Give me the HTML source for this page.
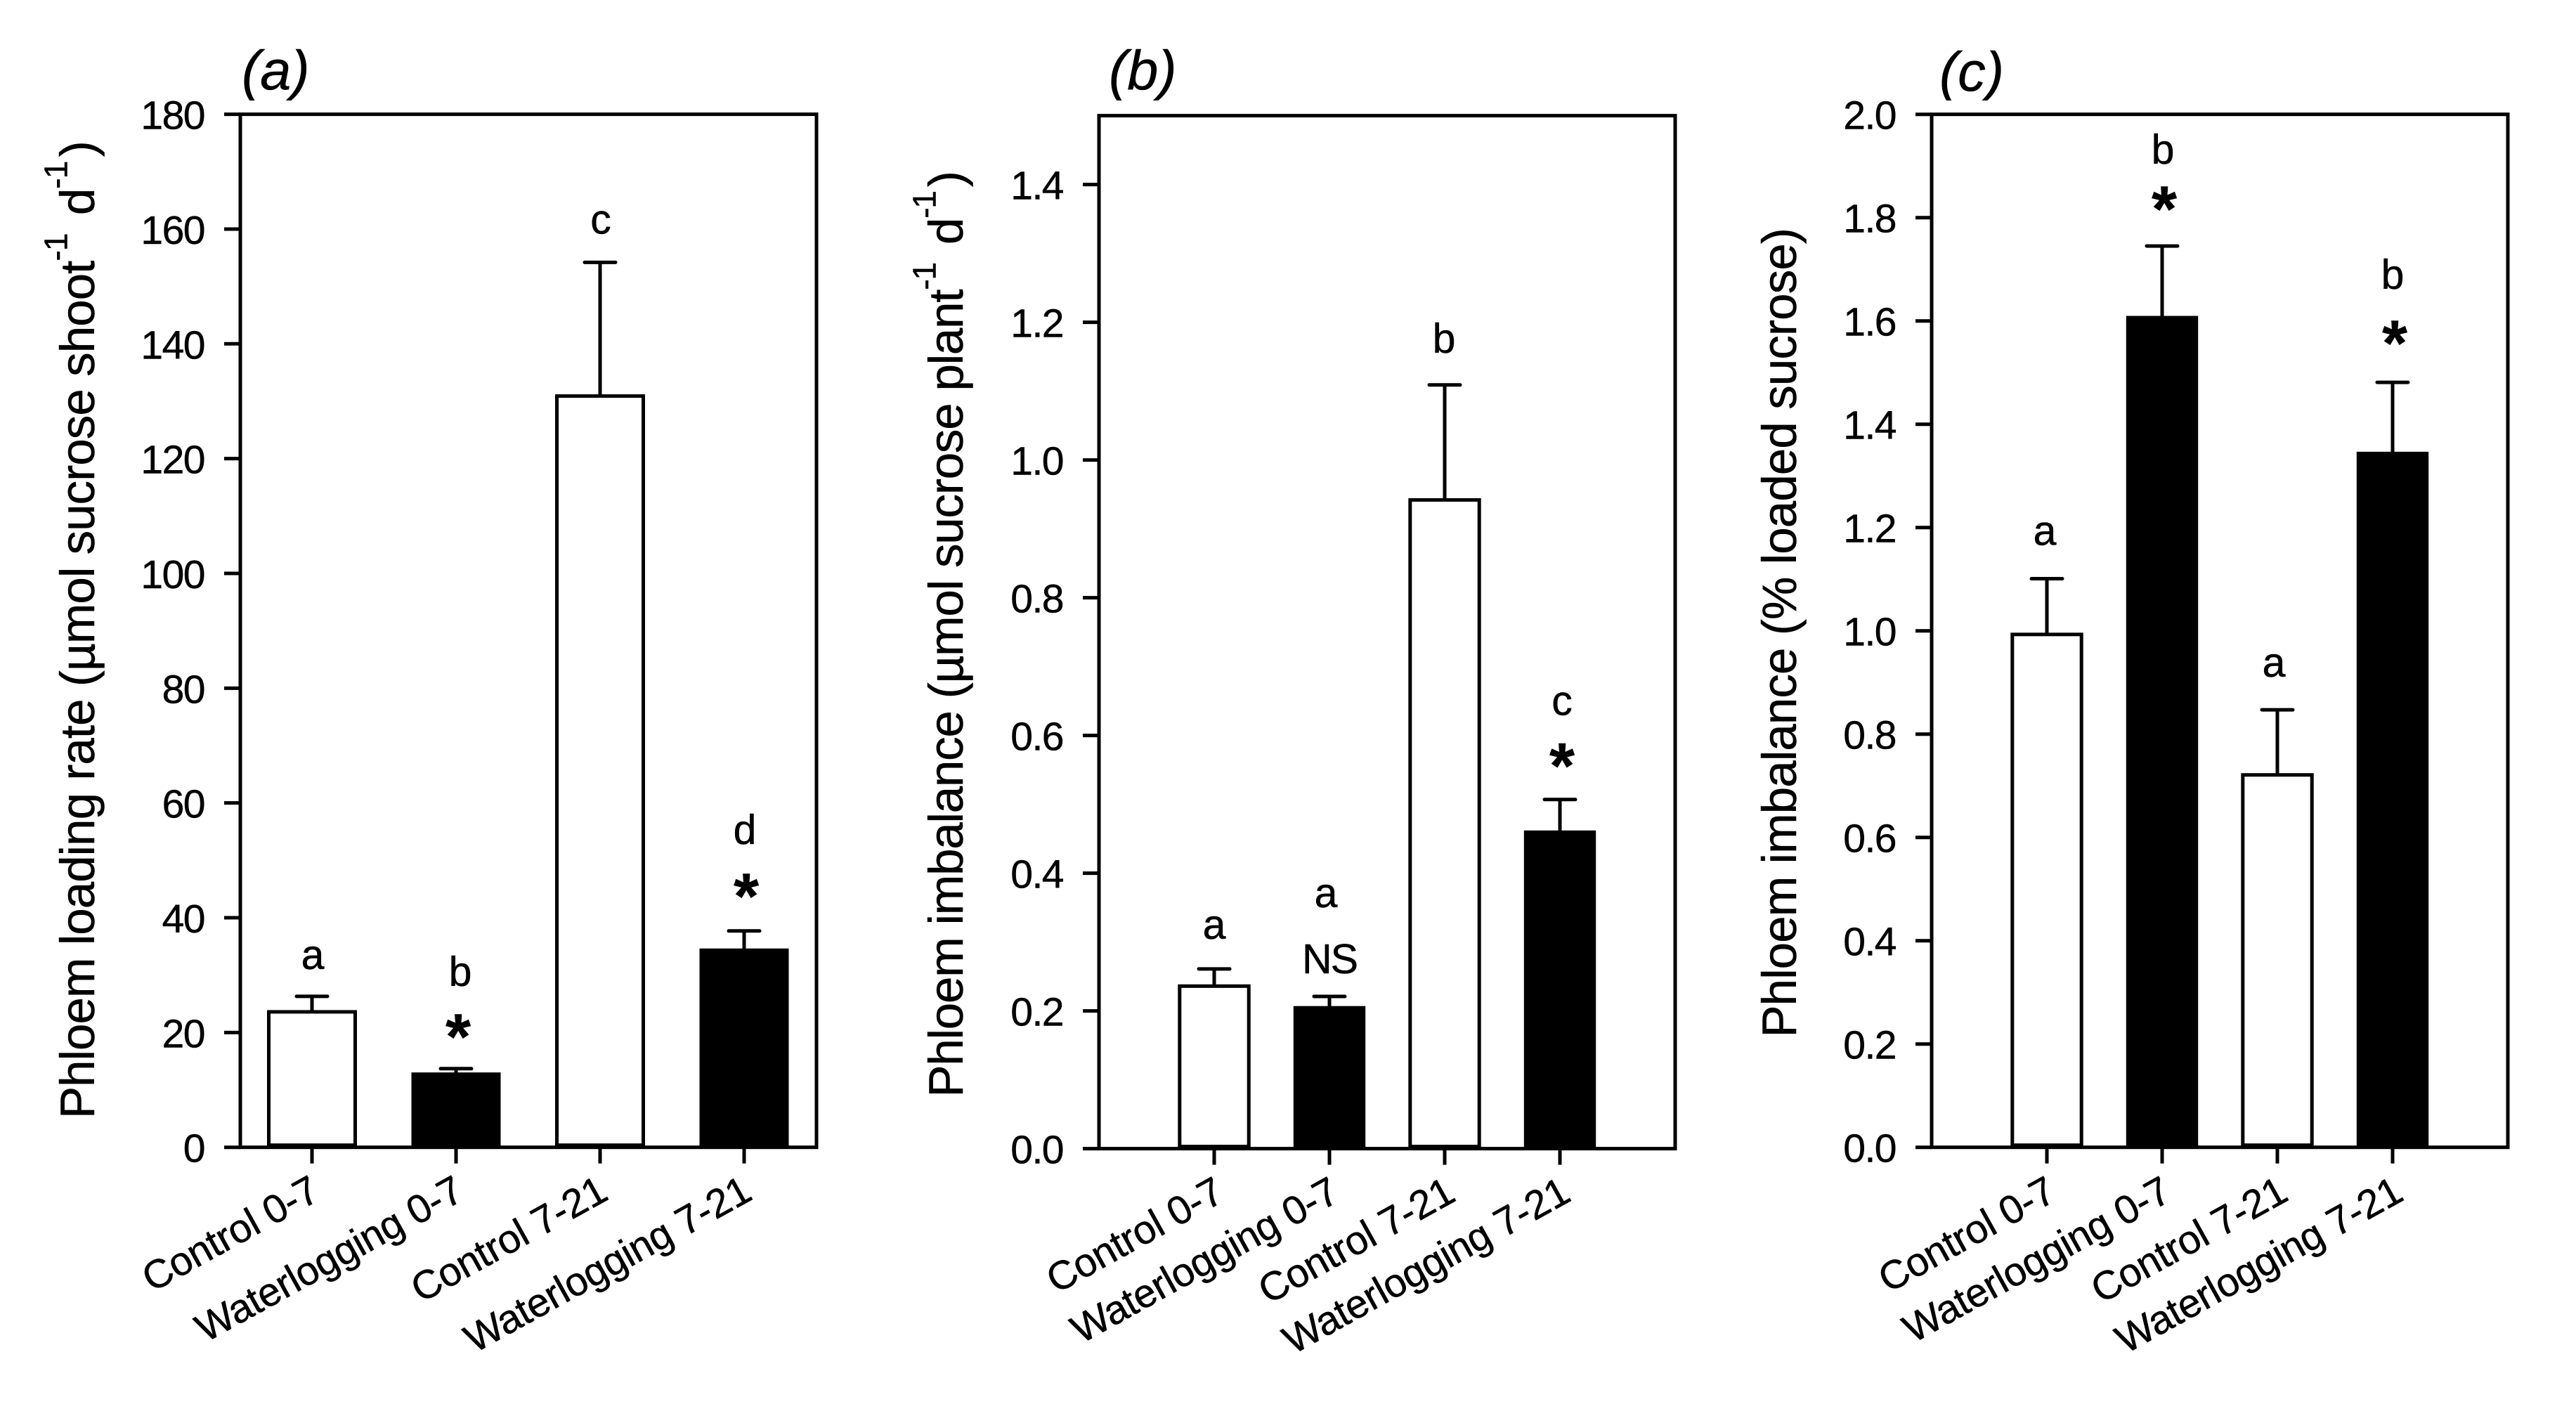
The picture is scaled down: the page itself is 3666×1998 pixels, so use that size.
<!DOCTYPE html>
<html lang="en">
<head>
<meta charset="utf-8">
<title>Phloem loading rate and imbalance</title>
<style>
html,body{margin:0;padding:0;background:#fff;}
svg{display:block;}
text{font-family:"Liberation Sans",Arial,sans-serif;fill:#000;stroke:#000;stroke-width:0.5px;}
</style>
</head>
<body>
<svg id="figure" xmlns="http://www.w3.org/2000/svg" width="3666" height="1998" viewBox="0 0 3666 1998">
<defs><clipPath id="title-clip"><rect x="0" y="69" width="3666" height="74"></rect></clipPath></defs>
<rect x="0" y="0" width="3666" height="1998" fill="#fff"></rect>
</svg>
<script>
const categories = ['Control 0-7', 'Waterlogging 0-7', 'Control 7-21', 'Waterlogging 7-21'];
const barFills = ['white', 'black', 'white', 'black'];

const panelAValues = [23.6, 12.8, 130.9, 34.4];
const panelAErrors = [2.7, 0.9, 23.3, 3.3];
const panelATicks = ['0', '20', '40', '60', '80', '100', '120', '140', '160', '180'];
const panelALetters = ['a', 'b', 'c', 'd'];
const panelAMarks = ['', '*', '', '*'];

const panelBValues = [0.236, 0.205, 0.942, 0.46];
const panelBErrors = [0.025, 0.016, 0.167, 0.047];
const panelBTicks = ['0.0', '0.2', '0.4', '0.6', '0.8', '1.0', '1.2', '1.4'];
const panelBLetters = ['a', 'a', 'b', 'c'];
const panelBMarks = ['', 'NS', '', '*'];

const panelCValues = [0.993, 1.607, 0.721, 1.344];
const panelCErrors = [0.108, 0.138, 0.126, 0.137];
const panelCTicks = ['0.0', '0.2', '0.4', '0.6', '0.8', '1.0', '1.2', '1.4', '1.6', '1.8', '2.0'];
const panelCLetters = ['a', 'b', 'a', 'b'];
const panelCMarks = ['', '*', '', '*'];

const SVG_NS = 'http://www.w3.org/2000/svg';
const figure = document.getElementById('figure');
const STROKE = 5;
const FONT_TICK = 57;
const FONT_LETTER = 59;
const FONT_AXIS = 69;
const FONT_SUP = 46;
const SUP_RISE = 38.5;

function mk(tag, attrs, parent, text) {
  const el = document.createElementNS(SVG_NS, tag);
  for (const k in attrs) el.setAttribute(k, attrs[k]);
  if (text !== undefined) el.textContent = text;
  parent.appendChild(el);
  return el;
}

function drawPanel(p) {
  const g = mk('g', {}, figure);
  
  

  const y = v => p.bottom - (v / p.yMax) * (p.bottom - p.top);
  const x = i => p.left + p.firstOffset + p.step * i;
  const barW = p.step * 0.6;

  const title = mk('text', {x: p.titleX, y: p.titleY, 'font-size': 79, 'font-style': 'italic', 'clip-path': 'url(#title-clip)'}, g, '(' + p.id + ')');
  
  

  // y-axis title with superscripts
  const yt = mk('text', {x: p.yTitleX, y: p.yTitleY, 'font-size': FONT_AXIS, 'letter-spacing': p.yTitleSpacing, transform: 'rotate(-90 ' + p.yTitleX + ' ' + p.yTitleY + ')'}, g);
  
  
  p.yTitleParts.forEach(part => {
    const attrs = {};
    if (part.sup) { attrs['font-size'] = FONT_SUP; attrs.dy = -SUP_RISE; }
    else if (part.after) { attrs.dy = SUP_RISE; }
    if (part.dx) attrs.dx = part.dx;
    const t = mk('tspan', attrs, yt, part.t);
    t.setAttribute('xml:space', 'preserve');
  });

  // bars and error bars
  p.values.forEach((v, i) => {
    const cx = x(i);
    const yTop = y(v);
    const yErr = y(v + p.errors[i]);

    const err = mk('line', {x1: cx, x2: cx, y1: yTop, y2: yErr, stroke: '#000', 'stroke-width': STROKE}, g);
    
    

    const cap = mk('line', {x1: cx - 22, x2: cx + 22, y1: yErr, y2: yErr, stroke: '#000', 'stroke-width': STROKE, 'stroke-linecap': 'round'}, g);
    
    

    let bar;
    if (barFills[i] === 'black') {
      bar = mk('rect', {x: cx - barW / 2 - 2, y: yTop - 2, width: barW + 4, height: p.bottom - yTop + 2, fill: '#000'}, g);
    } else {
      bar = mk('rect', {x: cx - barW / 2, y: yTop, width: barW, height: p.bottom - yTop - 3, fill: '#fff', stroke: '#000', 'stroke-width': STROKE}, g);
    }
    
    

    // significance annotations anchored on the error-bar top
    const letter = mk('text', {x: cx + p.letterDx[i], y: yErr - p.letterGap[i], 'font-size': FONT_LETTER, 'text-anchor': 'middle'}, g, p.letters[i]);
    
    

    if (p.marks[i] === '*') {
      const star = mk('text', {x: cx + 3, y: yErr - p.markGap[i] + 42, 'font-size': 92, 'font-weight': 'bold', 'text-anchor': 'middle'}, g, '*');
      
      
    } else if (p.marks[i]) {
      const ns = mk('text', {x: cx, y: yErr - p.markGap[i], 'font-size': FONT_LETTER, 'letter-spacing': -2, 'text-anchor': 'middle'}, g, p.marks[i]);
      
      
    }

    // x ticks and labels
    const tick = mk('line', {x1: cx, x2: cx, y1: p.bottom, y2: p.bottom + 23, stroke: '#000', 'stroke-width': STROKE}, g);
    
    

    const lx = cx + p.labelDx[i];
    const ly = p.bottom + p.labelDy[i];
    const lab = mk('text', {x: lx, y: ly, 'font-size': FONT_TICK, 'letter-spacing': -0.5, 'text-anchor': 'end', transform: 'rotate(-29 ' + lx + ' ' + ly + ')'}, g, categories[i]);
    
    
  });

  // y ticks and labels
  p.ticks.forEach(label => {
    const yy = y(parseFloat(label));
    const tick = mk('line', {x1: p.left - 23, x2: p.left, y1: yy, y2: yy, stroke: '#000', 'stroke-width': STROKE}, g);
    
    

    const txt = mk('text', {x: p.left - 51, y: yy + 21, 'font-size': FONT_TICK, 'letter-spacing': -1.5, 'text-anchor': 'end'}, g, label);
    
    
  });

  const frame = mk('rect', {x: p.left, y: p.top, width: p.right - p.left, height: p.bottom - p.top, fill: 'none', stroke: '#000', 'stroke-width': STROKE}, g);
  
  
}

drawPanel({
  id: 'a', left: 342, right: 1162, top: 162.6, bottom: 1632.7, yMax: 180,
  firstOffset: 102, step: 205,
  values: panelAValues, errors: panelAErrors, ticks: panelATicks, letters: panelALetters, marks: panelAMarks,
  titleX: 344, titleY: 127,
  yTitleX: 134, yTitleY: 1592, yTitleSpacing: -0.9,
  yTitleParts: [
    {t: 'Phloem loading rate (µmol sucrose shoot'},
    {t: '-1', sup: true},
    {t: ' d', after: true, dx: 8},
    {t: '-1', sup: true},
    {t: ' )', after: true, dx: -12}
  ],
  letterGap: [39, 118, 41, 124], letterDx: [1, 6, 1, 1],
  markGap: [0, 56, 0, 60],
  labelDx: [14, 14, 14, 14], labelDy: [73, 73, 73, 73]
});

drawPanel({
  id: 'b', left: 1564, right: 2384, top: 164.6, bottom: 1634.6, yMax: 1.5,
  firstOffset: 164, step: 164,
  values: panelBValues, errors: panelBErrors, ticks: panelBTicks, letters: panelBLetters, marks: panelBMarks,
  titleX: 1578, titleY: 127,
  yTitleX: 1370, yTitleY: 1561.5, yTitleSpacing: -1.15,
  yTitleParts: [
    {t: 'Phloem imbalance (µmol sucrose plant'},
    {t: '-1', sup: true},
    {t: ' d', after: true, dx: 8},
    {t: '-1', sup: true},
    {t: ' )', after: true, dx: -12}
  ],
  letterGap: [43, 127, 46, 120], letterDx: [0, -5, -1, 3],
  markGap: [0, 33, 0, 58],
  labelDx: [17, 17, 18, 18], labelDy: [73, 73, 73, 73]
});

drawPanel({
  id: 'c', left: 2749, right: 3569, top: 162.7, bottom: 1632.7, yMax: 2,
  firstOffset: 164, step: 164,
  values: panelCValues, errors: panelCErrors, ticks: panelCTicks, letters: panelCLetters, marks: panelCMarks,
  titleX: 2760, titleY: 129,
  yTitleX: 2556, yTitleY: 1476.5, yTitleSpacing: -0.85,
  yTitleParts: [{t: 'Phloem imbalance (% loaded sucrose)'}],
  letterGap: [48, 117, 47, 133], letterDx: [-3, 1, -5, 0],
  markGap: [0, 63, 0, 66],
  labelDx: [16, 16, 18, 18], labelDy: [74, 74, 74, 74]
});
</script>
</body>
</html>
